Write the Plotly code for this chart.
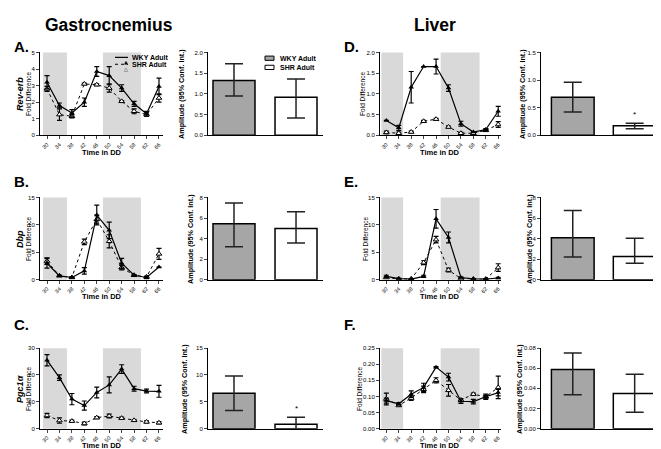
import plotly.graph_objects as go

W, H = 661, 449

# ---------------- data ----------------
times = [30, 34, 38, 42, 46, 50, 54, 58, 62, 66]
time_ticks = [30, 34, 38, 42, 46, 50, 54, 58, 62, 66]
groups = ["WKY Adult", "SHR Adult"]

# Gastrocnemius Rev-erb
revA_wky = [3.2, 1.8, 1.35, 2.0, 3.85, 3.6, 2.85, 1.9, 1.3, 2.95]
revA_wky_err = [0.4, 0.15, 0.2, 0.25, 0.3, 0.55, 0.2, 0.15, 0.15, 0.5]
revA_shr = [2.8, 1.25, 1.15, 3.1, 3.05, 2.85, 2.05, 1.45, 1.25, 2.25]
revA_shr_err = [0.15, 0.35, 0.1, 0.05, 0.05, 0.25, 0.05, 0.15, 0.1, 0.25]

# Gastrocnemius Dbp
dbp_wky = [3.0, 0.7, 0.4, 1.6, 11.8, 9.0, 3.0, 0.8, 0.4, 2.3]
dbp_wky_err = [0.9, 0.1, 0.1, 0.6, 1.8, 1.5, 0.9, 0.1, 0.2, 0.0]
dbp_shr = [3.4, 0.7, 0.4, 6.9, 11.0, 7.0, 2.2, 0.8, 0.5, 4.7]
dbp_shr_err = [0.6, 0.1, 0.1, 0.5, 0.8, 1.2, 0.4, 0.1, 0.1, 1.0]

# Gastrocnemius Pgc1a
pgc_wky = [25.5, 19.0, 11.0, 8.6, 13.5, 16.3, 22.2, 14.9, 14.0, 13.9]
pgc_wky_err = [2.1, 1.0, 2.1, 1.7, 2.0, 3.0, 1.6, 0.9, 0.7, 2.2]
pgc_shr = [4.9, 3.0, 2.8, 1.9, 4.1, 4.7, 3.9, 3.1, 2.5, 2.2]
pgc_shr_err = [0.8, 1.0, 0.4, 0.5, 0.4, 0.7, 0.4, 0.3, 0.4, 0.4]

# Liver D
livD_wky = [0.36, 0.18, 1.16, 1.66, 1.66, 1.14, 0.28, 0.08, 0.14, 0.58]
livD_wky_err = [0.0, 0.06, 0.38, 0.0, 0.18, 0.08, 0.06, 0.01, 0.02, 0.12]
livD_shr = [0.07, 0.05, 0.08, 0.34, 0.39, 0.20, 0.05, 0.05, 0.12, 0.26]
livD_shr_err = [0.03, 0.03, 0.02, 0.02, 0.02, 0.02, 0.02, 0.02, 0.02, 0.07]

# Liver E
livE_wky = [0.6, 0.2, 0.1, 0.6, 11.1, 7.7, 0.4, 0.15, 0.1, 0.3]
livE_wky_err = [0.2, 0.1, 0.05, 0.2, 1.7, 1.0, 0.1, 0.05, 0.05, 0.1]
livE_shr = [0.4, 0.1, 0.15, 3.1, 7.3, 1.75, 0.2, 0.1, 0.1, 2.2]
livE_shr_err = [0.1, 0.05, 0.05, 0.35, 0.6, 0.35, 0.05, 0.05, 0.05, 0.7]

# Liver F
livF_wky = [0.087, 0.077, 0.107, 0.128, 0.191, 0.160, 0.085, 0.084, 0.099, 0.112]
livF_wky_err = [0.008, 0.004, 0.010, 0.013, 0.002, 0.012, 0.007, 0.007, 0.004, 0.010]
livF_shr = [0.092, 0.072, 0.095, 0.122, 0.150, 0.119, 0.089, 0.107, 0.099, 0.128]
livF_shr_err = [0.018, 0.003, 0.007, 0.010, 0.008, 0.018, 0.004, 0.003, 0.008, 0.035]

# Amplitudes (mean, 95% CI low, 95% CI high) for [WKY, SHR]
ampA = [1.32, 0.92]; ampA_lo = [0.95, 0.42]; ampA_hi = [1.73, 1.36]
ampB = [5.43, 4.98]; ampB_lo = [3.2, 3.57]; ampB_hi = [7.46, 6.6]
ampC = [6.6, 0.8]; ampC_lo = [3.4, -0.5]; ampC_hi = [9.8, 2.1]
ampD = [0.69, 0.175]; ampD_lo = [0.42, 0.12]; ampD_hi = [0.96, 0.22]
ampE = [4.08, 2.25]; ampE_lo = [2.2, 1.6]; ampE_hi = [6.72, 4.02]
ampF = [0.0588, 0.035]; ampF_lo = [0.0336, 0.0163]; ampF_hi = [0.0751, 0.054]

# ---------------- layout helpers ----------------
def px(x):
    return x / W

def py(y):
    return 1 - y / H

FONT = "Liberation Sans, Arial, sans-serif"
line_left = (32, 155); line_right = (372, 493)
bar_left = (200, 315); bar_right = (533, 657)
rows = [(42, 126), (189, 272.3), (341.7, 423.3)]

fig = go.Figure()
layout = dict(
    width=W, height=H, margin=dict(l=0, r=0, t=0, b=0),
    paper_bgcolor="white", plot_bgcolor="white", showlegend=False,
    font=dict(family=FONT, color="black"),
)
shapes = []
annotations = []

def txt(x, y, text, size, xanchor="center", angle=0, bold=False):
    t = f"<b>{text}</b>" if bold else text
    annotations.append(dict(x=px(x), y=py(y), xref="paper", yref="paper", text=t, showarrow=False,
                            xanchor=xanchor, yanchor="middle", textangle=angle,
                            font=dict(size=size, family=FONT, color="black")))

def add_line_panel(idx, xpx, row, wky, wky_err, shr, shr_err, yr, ytickvals, yfmt, xr, shade):
    xa = "x" if idx == 1 else f"x{idx}"
    ya = "y" if idx == 1 else f"y{idx}"
    fig.add_trace(go.Scatter(
        x=times, y=shr, xaxis=xa, yaxis=ya, mode="lines+markers",
        line=dict(color="black", width=1, dash="dot"),
        marker=dict(symbol="triangle-up", size=5, color="white", line=dict(color="black", width=1)),
        error_y=dict(type="data", array=shr_err, color="black", thickness=1.2, width=2.5),
        name=groups[1]))
    fig.add_trace(go.Scatter(
        x=times, y=wky, xaxis=xa, yaxis=ya, mode="lines+markers",
        line=dict(color="black", width=1.2),
        marker=dict(symbol="triangle-up", size=5, color="black"),
        error_y=dict(type="data", array=wky_err, color="black", thickness=1.2, width=2.5),
        name=groups[0]))
    y0, y1 = row
    layout["xaxis" if idx == 1 else f"xaxis{idx}"] = dict(
        domain=[px(xpx[0]), px(xpx[1])], anchor=ya, range=xr,
        tickvals=time_ticks, ticktext=[str(t) for t in time_ticks], tickangle=-45,
        tickfont=dict(size=5.5, family=FONT), ticks="outside", ticklen=3, tickwidth=1,
        showline=True, linecolor="black", linewidth=1, showgrid=False, zeroline=False)
    layout["yaxis" if idx == 1 else f"yaxis{idx}"] = dict(
        domain=[py(y1), py(y0)], anchor=xa, range=yr, tickvals=ytickvals, tickformat=yfmt,
        tickfont=dict(size=6, family=FONT), ticks="outside", ticklen=3, tickwidth=1,
        showline=True, linecolor="black", linewidth=1, showgrid=False, zeroline=False)
    for a, b in shade:
        shapes.append(dict(type="rect", xref=xa, yref=f"{ya} domain", x0=a, x1=b, y0=0, y1=1,
                           fillcolor="#d9d9d9", line=dict(width=0), layer="below"))
    txt((xpx[0] + xpx[1]) / 2, y1 + 17, "Time in DD", 7.5, bold=True)

def add_bar_panel(idx, xpx, row, amp, lo, hi, yr, ytickvals, yfmt, xr, bw, star=False):
    xa = f"x{idx}"; ya = f"y{idx}"
    colors = ["#a6a6a6", "white"]
    for i in range(2):
        fig.add_trace(go.Bar(
            x=[i], y=[amp[i]], xaxis=xa, yaxis=ya, width=bw,
            marker=dict(color=colors[i], line=dict(color="black", width=1.5)),
            error_y=dict(type="data", symmetric=False, array=[hi[i] - amp[i]],
                         arrayminus=[amp[i] - lo[i]], color="#222222", thickness=1.5, width=9),
            name=groups[i]))
    y0, y1 = row
    layout[f"xaxis{idx}"] = dict(
        domain=[px(xpx[0]), px(xpx[1])], anchor=ya, range=xr, showticklabels=False,
        ticks="", showline=True, linecolor="black", linewidth=1, showgrid=False, zeroline=False)
    layout[f"yaxis{idx}"] = dict(
        domain=[py(y1), py(y0)], anchor=xa, range=yr, tickvals=ytickvals, tickformat=yfmt,
        tickfont=dict(size=6, family=FONT), ticks="outside", ticklen=3, tickwidth=1,
        showline=True, linecolor="black", linewidth=1, showgrid=False, zeroline=False)
    if star:
        annotations.append(dict(x=1, y=hi[1], xref=xa, yref=ya, text="*", showarrow=False,
                                yshift=9, font=dict(size=8, family=FONT)))

shadeL = [(28.7, 36.4), (48.0, 60.2)]
shadeR = [(28.4, 35.4), (47.5, 60.0)]
xrL = [27.75, 67.29]
xrR = [27.96, 66.9]

add_line_panel(1, line_left, rows[0], revA_wky, revA_wky_err, revA_shr, revA_shr_err,
               [0, 5], [0, 1, 2, 3, 4, 5], "d", xrL, shadeL)
add_bar_panel(2, bar_left, rows[0], ampA, ampA_lo, ampA_hi, [0, 2], [0, 0.5, 1, 1.5, 2], ".1f",
              [-0.419, 1.435], 0.677)
add_line_panel(3, line_right, rows[0], livD_wky, livD_wky_err, livD_shr, livD_shr_err,
               [0, 2], [0, 0.5, 1, 1.5, 2], ".1f", xrR, shadeR)
add_bar_panel(4, bar_right, rows[0], ampD, ampD_lo, ampD_hi, [0, 1.5], [0, 0.5, 1, 1.5], ".1f",
              [-0.513, 1.49], 0.69, star=True)
add_line_panel(5, line_left, rows[1], dbp_wky, dbp_wky_err, dbp_shr, dbp_shr_err,
               [0, 15], [0, 5, 10, 15], "d", xrL, shadeL)
add_bar_panel(6, bar_left, rows[1], ampB, ampB_lo, ampB_hi, [0, 8], [0, 2, 4, 6, 8], "d",
              [-0.419, 1.435], 0.677)
add_line_panel(7, line_right, rows[1], livE_wky, livE_wky_err, livE_shr, livE_shr_err,
               [0, 15], [0, 5, 10, 15], "d", xrR, shadeR)
add_bar_panel(8, bar_right, rows[1], ampE, ampE_lo, ampE_hi, [0, 8], [0, 2, 4, 6, 8], "d",
              [-0.513, 1.49], 0.69)
add_line_panel(9, line_left, rows[2], pgc_wky, pgc_wky_err, pgc_shr, pgc_shr_err,
               [0, 30], [0, 10, 20, 30], "d", xrL, shadeL)
add_bar_panel(10, bar_left, rows[2], ampC, ampC_lo, ampC_hi, [0, 15], [0, 5, 10, 15], "d",
              [-0.419, 1.435], 0.677, star=True)
add_line_panel(11, line_right, rows[2], livF_wky, livF_wky_err, livF_shr, livF_shr_err,
               [0, 0.25], [0, 0.05, 0.1, 0.15, 0.2, 0.25], ".2f", xrR, shadeR)
add_bar_panel(12, bar_right, rows[2], ampF, ampF_lo, ampF_hi, [0, 0.08], [0, 0.02, 0.04, 0.06, 0.08], ".2f",
              [-0.513, 1.49], 0.69)

# ---------------- text ----------------
txt(101, 14, "Gastrocnemius", 17.5, bold=True)
txt(427, 14, "Liver", 17.5, bold=True)
for lab, x, y in [("A.", 4, 36), ("B.", 4, 173), ("C.", 4, 318),
                  ("D.", 334, 36), ("E.", 334, 173), ("F.", 334, 318)]:
    txt(x, y, lab, 15, xanchor="left", bold=True)

# line chart y titles
for (g, yc) in [("Rev-erb", 84), ("Dbp", 231), ("Pgc1α", 383)]:
    annotations.append(dict(x=px(12), y=py(yc), xref="paper", yref="paper",
                            text=f"<b><i>{g}</i></b>", showarrow=False, textangle=-90,
                            xanchor="center", yanchor="middle",
                            font=dict(size=9, family=FONT)))
for xx, yc in [(21, 84), (21, 231), (21, 383), (355, 84), (358, 231), (352, 383)]:
    txt(xx, yc, "Fold Difference", 6.5, angle=-90)

# bar y titles
for xx, yc in [(174, 84), (183, 231), (177, 383), (515, 84), (522, 231), (512, 383)]:
    txt(xx, yc, "Amplitude (95% Conf. Int.)", 7.2, angle=-90, bold=True)

# legend for line chart A
shapes.append(dict(type="line", xref="paper", yref="paper", x0=px(107), x1=px(120),
                   y0=py(47), y1=py(47), line=dict(color="black", width=1.2)))
shapes.append(dict(type="line", xref="paper", yref="paper", x0=px(107), x1=px(120),
                   y0=py(54), y1=py(54), line=dict(color="black", width=1, dash="dot")))
annotations.append(dict(x=px(113.5), y=py(47), xref="paper", yref="paper", text="▲",
                        showarrow=False, font=dict(size=5, family="DejaVu Sans", color="black")))
annotations.append(dict(x=px(113.5), y=py(54), xref="paper", yref="paper", text="△",
                        showarrow=False,
                        font=dict(size=5, family="DejaVu Sans", color="black")))
txt(122, 47, "WKY Adult", 7, xanchor="left", bold=True)
txt(122, 54, "SHR Adult", 7, xanchor="left", bold=True)

# legend for bar chart A
shapes.append(dict(type="rect", xref="paper", yref="paper", x0=px(257), x1=px(266),
                   y0=py(50), y1=py(45.7), fillcolor="#a6a6a6", line=dict(color="black", width=1)))
shapes.append(dict(type="rect", xref="paper", yref="paper", x0=px(257), x1=px(266),
                   y0=py(59.3), y1=py(55), fillcolor="white", line=dict(color="black", width=1)))
txt(270, 48, "WKY Adult", 7, xanchor="left", bold=True)
txt(270, 57, "SHR Adult", 7, xanchor="left", bold=True)

layout["shapes"] = shapes
layout["annotations"] = annotations
fig.update_layout(**layout)
fig.write_html("out.html")
